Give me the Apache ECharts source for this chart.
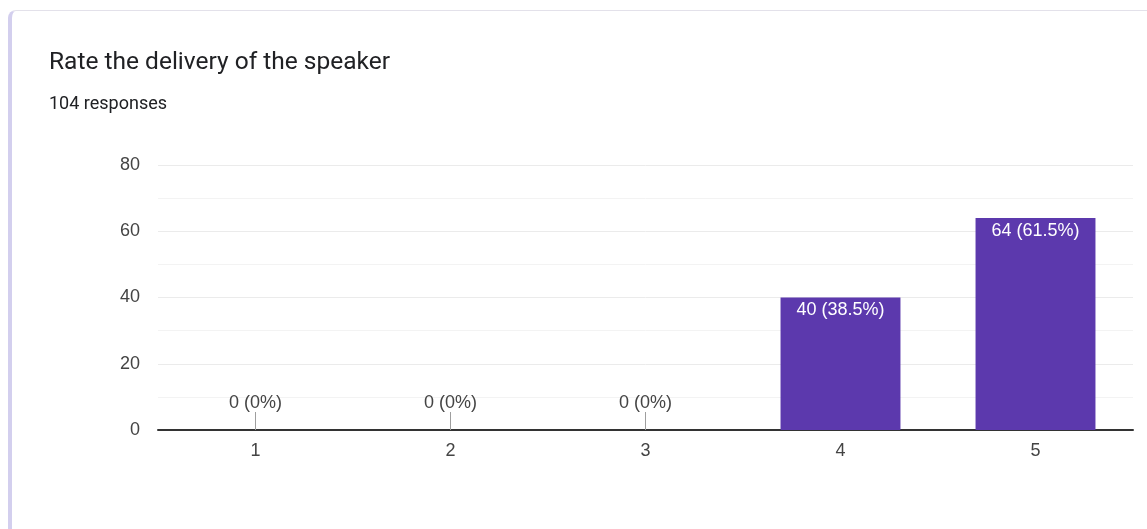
<!DOCTYPE html>
<html>
<head>
<meta charset="utf-8">
<script src="https://cdn.jsdelivr.net/npm/echarts@6/dist/echarts.min.js"></script>
<style>
html,body{margin:0;padding:0;background:#fff;width:1147px;height:529px;overflow:hidden;}
#card{position:absolute;left:8px;top:10px;width:1160px;height:540px;border-left:4px solid #d3cfee;border-top:1px solid #e3e1ea;border-top-left-radius:8px;box-sizing:border-box;}
#chart{position:absolute;left:0;top:0;width:1147px;height:529px;}
</style>
</head>
<body>
<div id="card"></div>
<div id="chart"></div>
<script>
const titleText = 'Rate the delivery of the speaker';
const subtitleText = '104 responses';
const categories = ['1', '2', '3', '4', '5'];
const counts = [0, 0, 0, 40, 64];
const yTicks = [0, 20, 40, 60, 80];

const total = counts.reduce((a, b) => a + b, 0);
function pct(v) {
  const p = Math.round(v / total * 1000) / 10;
  return p + '%';
}

const FONT = 'Arial, "Liberation Sans", sans-serif';
const chart = echarts.init(document.getElementById('chart'), null, {renderer: 'canvas'});
chart.setOption({
  animation: false,
  backgroundColor: 'transparent',
  title: {
    text: titleText,
    subtext: subtitleText,
    left: 44,
    top: 45,
    itemGap: 20,
    textStyle: {fontFamily: 'Roboto', fontSize: 24.5, fontWeight: 'normal', color: '#202124'},
    subtextStyle: {fontFamily: 'Roboto', fontSize: 18, color: '#202124'}
  },
  grid: {left: 158, right: 14, top: 165, bottom: 99, containLabel: false},
  xAxis: {
    type: 'category',
    data: categories,
    axisLine: {show: true, lineStyle: {color: '#333', width: 2}},
    axisTick: {show: false},
    axisLabel: {color: '#444', fontSize: 18, fontFamily: FONT, margin: 12},
    splitLine: {show: false}
  },
  yAxis: {
    type: 'value',
    min: yTicks[0],
    max: yTicks[yTicks.length - 1],
    interval: 20,
    axisLine: {show: false},
    axisTick: {show: false},
    axisLabel: {color: '#444', fontSize: 18, fontFamily: FONT, margin: 18},
    splitLine: {show: true, lineStyle: {color: '#ebebeb', width: 1}},
    minorTick: {show: false, splitNumber: 2},
    minorSplitLine: {show: true, lineStyle: {color: '#f3f3f3', width: 1}}
  },
  series: [{
    type: 'bar',
    data: counts.map(v => ({
      value: v,
      label: v === 0 ? {
        show: true,
        position: 'top',
        distance: 0,
        formatter: function (p) { return '{t|' + p.value + ' (' + pct(p.value) + ')}\n{s|}'; },
        rich: {
          t: {color: '#444', fontSize: 18, fontFamily: FONT, lineHeight: 18},
          s: {width: 1, height: 18, backgroundColor: '#9e9e9e'}
        }
      } : {
        show: true,
        position: 'insideTop',
        distance: 4,
        color: '#fff',
        fontSize: 18,
        fontFamily: FONT,
        formatter: function (p) { return p.value + ' (' + pct(p.value) + ')'; }
      }
    })),
    barWidth: '61.5%',
    itemStyle: {color: '#5c39ad'}
  }]
});
</script>
</body>
</html>
